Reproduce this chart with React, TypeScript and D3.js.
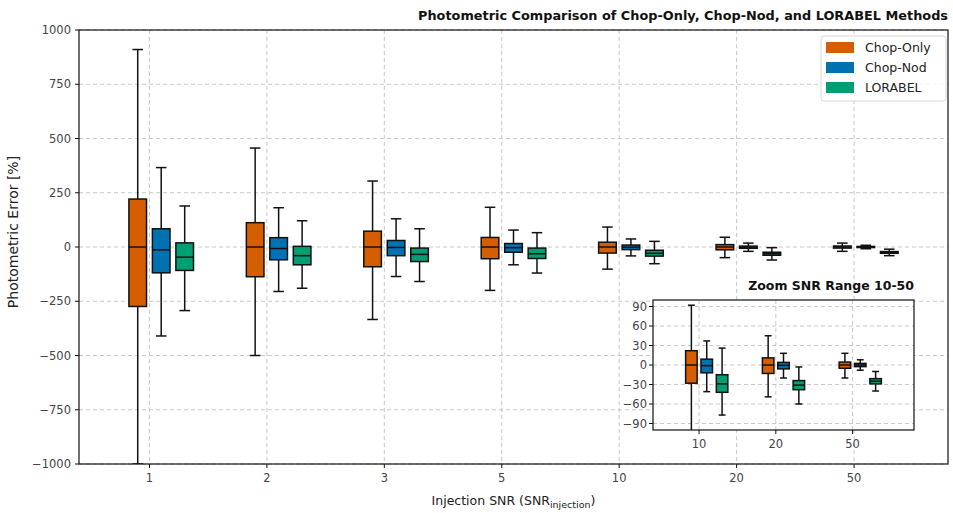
import React from "react";
import * as d3 from "d3";

const categories = ["1", "2", "3", "5", "10", "20", "50"];
const methods = ["Chop-Only", "Chop-Nod", "LORABEL"];
const colors = ["#D55E00", "#0072B2", "#009E73"];

// [whiskerLow, q1, median, q3, whiskerHigh] per category
const chopOnly = [
  [-1000, -274, 0, 221, 910],
  [-500, -137, 0, 112, 456],
  [-334, -91, 0, 73, 304],
  [-200, -54, 0, 44, 183],
  [-102, -28, 0, 22, 92],
  [-49, -13, 0, 11, 45],
  [-20, -5, 0, 4.5, 18],
];
const chopNod = [
  [-410, -119, -13, 84, 366],
  [-205, -59, -7, 43, 181],
  [-136, -40, -2, 30, 130],
  [-82, -24, -3, 16, 78],
  [-41, -12, -1, 9, 37],
  [-20, -6, -0.5, 4, 18],
  [-8, -2.5, 0, 2.5, 8],
];
const lorabel = [
  [-293, -108, -47, 19, 189],
  [-190, -82, -40, 3, 121],
  [-159, -67, -34, -5, 84],
  [-120, -53, -31, -5, 66],
  [-77, -42, -29, -15, 26],
  [-60, -38, -31, -24, -3],
  [-40, -29, -25, -21, -10],
];
const seriesData = [chopOnly, chopNod, lorabel];

const mainYTicks = [1000, 750, 500, 250, 0, -250, -500, -750, -1000];
const insetYTicks = [90, 60, 30, 0, -30, -60, -90];
const insetCategories = ["10", "20", "50"];
const insetStart = 4;

const FONT = "'DejaVu Sans', 'Open Sans', sans-serif";
const W = 953;
const H = 513;
const offsets = [-0.1, 0.1, 0.3];
const BOXW = 0.15;
const CAPW = 0.09;
const fmt = (v: number) => (v < 0 ? "\u2212" + Math.abs(v) : String(v));

function Boxes({ x, y, cats, startIdx }: any) {
  const u = x(1) - x(0);
  const out: any[] = [];
  cats.forEach((c: string, ci: number) => {
    const di = startIdx + ci;
    seriesData.forEach((s, si) => {
      const [lo, q1, med, q3, hi] = s[di];
      const cx = x(ci + 1 + offsets[si]);
      const bw = BOXW * u;
      const cw = CAPW * u;
      out.push(
        <g key={`${c}-${si}`} stroke="#111" strokeWidth={1.5}>
          <line x1={cx} x2={cx} y1={y(q3)} y2={y(hi)} />
          <line x1={cx} x2={cx} y1={y(q1)} y2={y(lo)} />
          <line x1={cx - cw / 2} x2={cx + cw / 2} y1={y(hi)} y2={y(hi)} />
          <line x1={cx - cw / 2} x2={cx + cw / 2} y1={y(lo)} y2={y(lo)} />
          <rect x={cx - bw / 2} width={bw} y={y(q3)} height={Math.max(0.5, y(q1) - y(q3))} fill={colors[si]} />
          <line x1={cx - bw / 2} x2={cx + bw / 2} y1={y(med)} y2={y(med)} />
        </g>
      );
    });
  });
  return <g>{out}</g>;
}

export default function App() {
  const L = 79, R = 948, T = 30, B = 464;
  const x = d3.scaleLinear().domain([0.4, categories.length + 0.8]).range([L, R]);
  const y = d3.scaleLinear().domain([-1000, 1000]).range([B, T]);

  const iL = 653, iR = 914, iT = 300, iB = 430;
  const ix = d3.scaleLinear().domain([0.4, insetCategories.length + 0.8]).range([iL, iR]);
  const iy = d3.scaleLinear().domain([-100, 100]).range([iB, iT]);

  const gridStyle = { stroke: "#c8c8c8", strokeWidth: 1, strokeDasharray: "4,3" };
  const tickColor = "#444";

  return (
    <svg width={W} height={H} style={{ position: "absolute", left: 0, top: 0, fontFamily: FONT }}>
      <rect width={W} height={H} fill="#fff" />
      <defs>
        <clipPath id="mainClip"><rect x={L} y={T} width={R - L} height={B - T} /></clipPath>
        <clipPath id="insetClip"><rect x={iL} y={iT} width={iR - iL} height={iB - iT} /></clipPath>
      </defs>
      {/* main grid */}
      <g>
        {mainYTicks.map((t) => (
          <line key={t} x1={L} x2={R} y1={y(t)} y2={y(t)} {...gridStyle} />
        ))}
        {categories.map((c, i) => (
          <line key={c} x1={x(i + 1)} x2={x(i + 1)} y1={T} y2={B} {...gridStyle} />
        ))}
      </g>
      <g clipPath="url(#mainClip)">
        <Boxes x={x} y={y} cats={categories} startIdx={0} />
      </g>
      {/* main axes */}
      <rect x={L} y={T} width={R - L} height={B - T} fill="none" stroke="#111" strokeWidth={1.2} />
      {mainYTicks.map((t) => (
        <g key={t}>
          <line x1={L - 4} x2={L} y1={y(t)} y2={y(t)} stroke="#111" strokeWidth={1} />
          <text x={L - 8} y={y(t)} dy="0.35em" textAnchor="end" fontSize={11.5} fill={tickColor}>{fmt(t)}</text>
        </g>
      ))}
      {categories.map((c, i) => (
        <g key={c}>
          <line x1={x(i + 1)} x2={x(i + 1)} y1={B} y2={B + 4} stroke="#111" strokeWidth={1} />
          <text x={x(i + 1)} y={B + 18} textAnchor="middle" fontSize={11.5} fill={tickColor}>{c}</text>
        </g>
      ))}
      <text x={(L + R) / 2} y={505} textAnchor="middle" fontSize={12.5} fill="#222">
        Injection SNR (SNR<tspan fontSize={9.5} dy={3}>injection</tspan><tspan dy={-3}>)</tspan>
      </text>
      <text transform={`translate(18,${(T + B) / 2 - 15}) rotate(-90)`} textAnchor="middle" fontSize={14} fill="#222">
        Photometric Error [%]
      </text>
      <text x={R} y={20} textAnchor="end" fontSize={12} fontWeight="bold" fill="#111" textLength={530} lengthAdjust="spacingAndGlyphs">
        Photometric Comparison of Chop-Only, Chop-Nod, and LORABEL Methods
      </text>

      {/* legend */}
      <g>
        <rect x={821} y={36} width={125} height={65} rx={3} fill="#fff" fillOpacity={0.85} stroke="#d8d8d8" />
        {methods.map((m, i) => (
          <g key={m}>
            <rect x={826} y={42 + i * 20} width={28} height={11} fill={colors[i]} />
            <text x={865} y={48 + i * 20} dy="0.35em" fontSize={12.5} fill="#222">{m}</text>
          </g>
        ))}
      </g>

      {/* inset */}
      <rect x={iL} y={iT} width={iR - iL} height={iB - iT} fill="#fff" />
      <g>
        {insetYTicks.map((t) => (
          <line key={t} x1={iL} x2={iR} y1={iy(t)} y2={iy(t)} {...gridStyle} />
        ))}
        {insetCategories.map((c, i) => (
          <line key={c} x1={ix(i + 1)} x2={ix(i + 1)} y1={iT} y2={iB} {...gridStyle} />
        ))}
      </g>
      <g clipPath="url(#insetClip)">
        <Boxes x={ix} y={iy} cats={insetCategories} startIdx={insetStart} />
      </g>
      <rect x={iL} y={iT} width={iR - iL} height={iB - iT} fill="none" stroke="#111" strokeWidth={1.2} />
      {insetYTicks.map((t) => (
        <g key={t}>
          <line x1={iL - 4} x2={iL} y1={iy(t)} y2={iy(t)} stroke="#111" strokeWidth={1} />
          <text x={iL - 6} y={iy(t)} dy="0.35em" textAnchor="end" fontSize={11.5} fill={tickColor}>{fmt(t)}</text>
        </g>
      ))}
      {insetCategories.map((c, i) => (
        <g key={c}>
          <line x1={ix(i + 1)} x2={ix(i + 1)} y1={iB} y2={iB + 4} stroke="#111" strokeWidth={1} />
          <text x={ix(i + 1)} y={iB + 18} textAnchor="middle" fontSize={11.5} fill={tickColor}>{c}</text>
        </g>
      ))}
      <text x={iR} y={iT - 10} textAnchor="end" fontSize={12.5} fontWeight="bold" fill="#111">
        Zoom SNR Range 10-50
      </text>
    </svg>
  );
}
